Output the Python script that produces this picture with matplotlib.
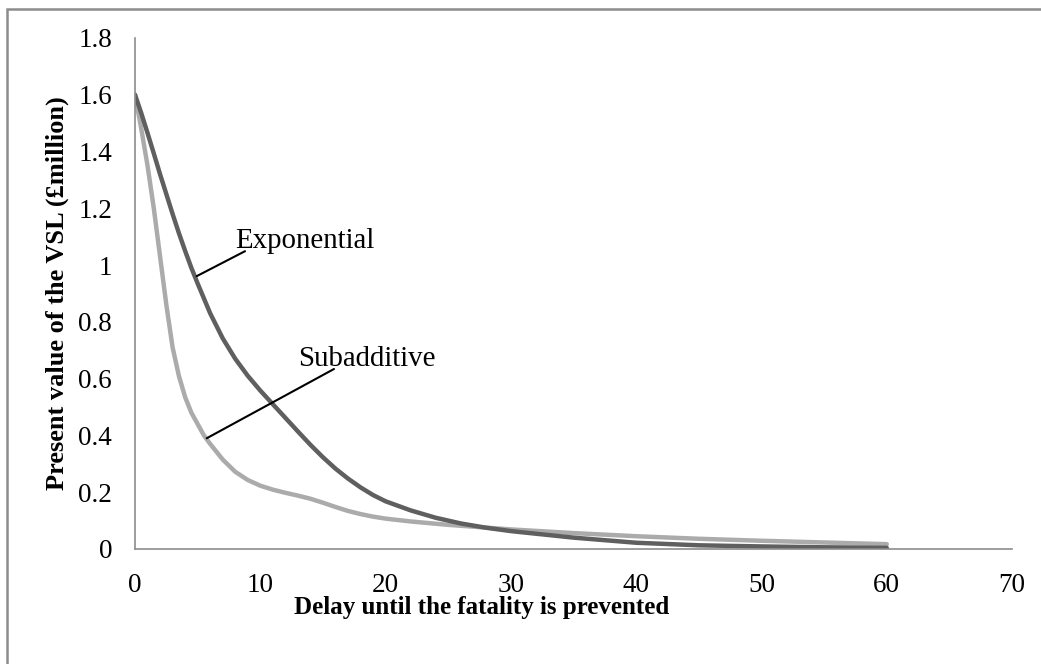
import numpy as np
import matplotlib.pyplot as plt
from matplotlib.patches import Rectangle

plt.rcParams['font.family'] = ['Liberation Serif', 'DejaVu Serif']

# values
exp_x = [0, 0.5, 1, 1.5, 2, 2.5, 3, 3.5, 4, 4.5, 5, 6, 7, 8, 9, 10, 11, 12, 13, 14,
         15, 16, 17, 18, 19, 20, 22, 24, 26, 28, 30, 35, 40, 45, 50, 55, 60]
exp_y = [1.6, 1.535, 1.465, 1.393, 1.32, 1.25, 1.18, 1.113, 1.05, 0.99, 0.935,
         0.83, 0.742, 0.67, 0.61, 0.558, 0.51, 0.462, 0.414, 0.367,
         0.323, 0.283, 0.248, 0.217, 0.19, 0.168, 0.136, 0.11, 0.09, 0.075, 0.063,
         0.04, 0.022, 0.013, 0.009, 0.006, 0.004]

sub_x = [0, 0.5, 1, 1.5, 2, 2.5, 3, 3.5, 4, 4.5, 5, 5.5, 6, 7, 8, 9, 10, 11, 12, 13,
         14, 15, 16, 17, 18, 19, 20, 22, 25, 30, 35, 40, 45, 50, 55, 60]
sub_y = [1.6, 1.48, 1.35, 1.2, 1.03, 0.86, 0.71, 0.61, 0.535, 0.48, 0.44, 0.4,
         0.37, 0.315, 0.272, 0.243, 0.223, 0.209, 0.198, 0.188, 0.177, 0.163,
         0.148, 0.134, 0.123, 0.114, 0.107, 0.097, 0.085, 0.069, 0.056, 0.045,
         0.036, 0.029, 0.023, 0.017]

fig = plt.figure(figsize=(10.41, 6.64), dpi=100)
ax = fig.add_axes([0.1297, 0.1732, 0.8425, 0.7696])

ax.plot(sub_x, sub_y, color='#ababab', lw=3.2, solid_capstyle='round',
        solid_joinstyle='round')
ax.plot(exp_x, exp_y, color='#5f5f5f', lw=3.2, solid_capstyle='round',
        solid_joinstyle='round')

ax.set_xlim(0, 70)
ax.set_ylim(0, 1.8)
ax.set_xticks(np.arange(0, 71, 10))
ax.set_yticks(np.arange(0, 1.81, 0.2))
ax.set_yticklabels(['0', '0.2', '0.4', '0.6', '0.8', '1', '1.2', '1.4', '1.6', '1.8'])
ax.tick_params(length=0, labelsize=19.5)
ax.tick_params(axis='y', pad=16.5)
ax.tick_params(axis='x', pad=17)
for s in ['top', 'right']:
    ax.spines[s].set_visible(False)
for s in ['left', 'bottom']:
    ax.spines[s].set_color('#8c8c8c')
    ax.spines[s].set_linewidth(1.2)

ax.set_xlabel('Delay until the fatality is prevented', fontsize=18,
              fontweight='bold')
ax.xaxis.set_label_coords(0.395, -0.128)
ax.xaxis.label.set_va('baseline')
ax.set_ylabel('Present value of the VSL (£million)', fontsize=19,
              fontweight='bold', labelpad=6.5)

# leader lines and labels
ax.annotate('', xy=(4.92, 0.961), xytext=(8.78, 1.049),
            arrowprops=dict(arrowstyle='-', color='black', lw=1.5,
                            shrinkA=0, shrinkB=0))
ax.text(7.98, 1.06, 'Exponential', fontsize=20.8, va='baseline', ha='left')
ax.annotate('', xy=(5.72, 0.39), xytext=(15.88, 0.634),
            arrowprops=dict(arrowstyle='-', color='black', lw=1.5,
                            shrinkA=0, shrinkB=0))
ax.text(13.0, 0.644, 'Subadditive', fontsize=20.8, va='baseline', ha='left')

fig.patches.append(Rectangle((6.5 / 1041, -0.05), 1.2, (664 - 8.5) / 664 + 0.05,
                             transform=fig.transFigure, fill=False,
                             edgecolor='#8c8c8c', lw=1.8))

fig.savefig('out.png', dpi=100)
